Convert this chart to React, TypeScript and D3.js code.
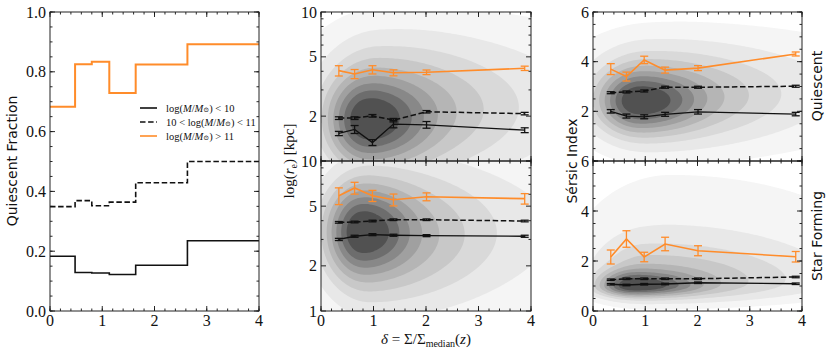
import React from 'react'
import * as d3 from 'd3'

// quiescent fraction, step histogram over delta bins
const binEdges = [0, 0.48, 0.8, 1.135, 1.64, 2.63, 4]
const fracLow = [0.183, 0.129, 0.127, 0.122, 0.153, 0.235]
const fracMid = [0.349, 0.369, 0.352, 0.364, 0.429, 0.5]
const fracHigh = [0.683, 0.825, 0.834, 0.729, 0.824, 0.892]

// delta bin centres for the size / sersic trends
const deltaPts = [0.34, 0.64, 0.98, 1.38, 2.01, 3.88]

// effective radius [kpc], quiescent
const reQLow = [1.53, 1.63, 1.33, 1.77, 1.75, 1.61]
const reQLowErr = [0.05, 0.1, 0.06, 0.1, 0.09, 0.06]
const reQMid = [1.94, 1.94, 2.01, 1.88, 2.14, 2.08]
const reQMidErr = [0.04, 0.04, 0.04, 0.05, 0.04, 0.04]
const reQHigh = [4.04, 3.84, 4.1, 3.91, 3.94, 4.19]
const reQHighErr = [0.32, 0.27, 0.26, 0.18, 0.14, 0.14]

// effective radius [kpc], star forming
const reSLow = [3.0, 3.15, 3.23, 3.2, 3.18, 3.15]
const reSLowErr = [0.05, 0.05, 0.05, 0.05, 0.05, 0.05]
const reSMid = [3.9, 3.92, 3.98, 4.06, 4.06, 3.98]
const reSMidErr = [0.05, 0.05, 0.05, 0.05, 0.05, 0.05]
const reSHigh = [5.87, 6.61, 5.87, 5.52, 5.78, 5.61]
const reSHighErr = [0.75, 0.6, 0.5, 0.5, 0.35, 0.45]

// sersic index, quiescent
const nQLow = [2.0, 1.81, 1.78, 1.88, 1.98, 1.89]
const nQLowErr = [0.07, 0.08, 0.08, 0.08, 0.09, 0.07]
const nQMid = [2.75, 2.78, 2.82, 2.97, 2.97, 3.01]
const nQMidErr = [0.04, 0.04, 0.04, 0.04, 0.04, 0.04]
const nQHigh = [3.7, 3.4, 4.07, 3.66, 3.74, 4.31]
const nQHighErr = [0.22, 0.18, 0.15, 0.12, 0.1, 0.08]

// sersic index, star forming
const nSLow = [1.07, 1.04, 1.07, 1.08, 1.13, 1.09]
const nSLowErr = [0.03, 0.03, 0.03, 0.03, 0.03, 0.03]
const nSMid = [1.25, 1.29, 1.29, 1.29, 1.29, 1.36]
const nSMidErr = [0.03, 0.03, 0.03, 0.03, 0.03, 0.03]
const nSHigh = [2.16, 2.88, 2.16, 2.68, 2.41, 2.17]
const nSHighErr = [0.28, 0.33, 0.19, 0.27, 0.2, 0.21]

// background density, as a few skewed gaussian blobs (x in delta, y in log r or n)
type Blob = { cx: number; cy: number; sxl: number; sxr: number; syd: number; syu: number; w: number }
const densQSize: Blob[] = [
  { cx: 0.85, cy: 0.27, sxl: 0.4, sxr: 0.65, syd: 0.16, syu: 0.16, w: 1 },
  { cx: 1.1, cy: 0.33, sxl: 0.55, sxr: 1.3, syd: 0.24, syu: 0.24, w: 0.4 },
  { cx: 2.2, cy: 0.4, sxl: 1.6, sxr: 2.5, syd: 0.32, syu: 0.32, w: 0.08 },
]
const densSSize: Blob[] = [
  { cx: 0.75, cy: 0.53, sxl: 0.35, sxr: 0.55, syd: 0.16, syu: 0.16, w: 1 },
  { cx: 0.95, cy: 0.5, sxl: 0.5, sxr: 1.2, syd: 0.25, syu: 0.25, w: 0.4 },
  { cx: 2.0, cy: 0.55, sxl: 1.5, sxr: 2.5, syd: 0.33, syu: 0.33, w: 0.07 },
]
const densQSersic: Blob[] = [
  { cx: 0.85, cy: 2.4, sxl: 0.4, sxr: 0.65, syd: 0.65, syu: 0.65, w: 1 },
  { cx: 1.05, cy: 2.6, sxl: 0.55, sxr: 1.3, syd: 1.0, syu: 1.0, w: 0.4 },
  { cx: 2.0, cy: 2.9, sxl: 1.6, sxr: 2.5, syd: 1.4, syu: 1.4, w: 0.07 },
]
const densSSersic: Blob[] = [
  { cx: 0.75, cy: 1.0, sxl: 0.35, sxr: 0.7, syd: 0.22, syu: 0.35, w: 1 },
  { cx: 1.0, cy: 1.1, sxl: 0.5, sxr: 1.6, syd: 0.4, syu: 0.9, w: 0.3 },
  { cx: 1.5, cy: 1.5, sxl: 1.2, sxr: 2.5, syd: 0.6, syu: 2.4, w: 0.05 },
]
const levelFracs = [0.01, 0.035, 0.08, 0.14, 0.22, 0.32, 0.44, 0.58, 0.74]
const greys = ['#f5f5f5', '#e8e8e8', '#d9d9d9', '#c8c8c8', '#b5b5b5', '#a0a0a0', '#888888', '#6d6d6d', '#515151']

const ORANGE = '#ff8c2a'
const SERIF = 'Liberation Serif, DejaVu Serif, serif'
const SANS = 'DejaVu Sans, sans-serif'

const xsLeft = d3.scaleLinear().domain([0, 4]).range([50, 259])
const ysLeft = d3.scaleLinear().domain([0, 1]).range([311, 12])
const xsMid = d3.scaleLinear().domain([0, 4]).range([321, 531])
const xsRight = d3.scaleLinear().domain([0, 4]).range([593, 802])
const ysMidTop = d3.scaleLog().domain([1, 10]).range([161, 12])
const ysMidBot = d3.scaleLog().domain([1, 10]).range([311, 161])
const ysRightTop = d3.scaleLinear().domain([0, 6]).range([161, 12])
const ysRightBot = d3.scaleLinear().domain([0, 6]).range([311, 161])

const xMajor = [0, 1, 2, 3, 4]
const xMinor = d3.range(0, 4.001, 0.2)
const fracMajor = d3.range(0, 1.001, 0.2)
const fracMinor = d3.range(0, 1.001, 0.05)
const logMajor = [1, 2, 5, 10]
const logMinor = [3, 4, 6, 7, 8, 9]
const nMajor = [0, 2, 4, 6]
const nMinor = d3.range(0, 6.001, 0.5)

function contourPaths(blobs: Blob[], xs: any, ys: any, yVar: (v: number) => number) {
  const [px0, px1] = xs.range()
  const [py1, py0] = ys.range()
  const step = 2
  const nx = Math.ceil((px1 - px0) / step)
  const ny = Math.ceil((py1 - py0) / step)
  const vals: number[] = new Array(nx * ny)
  for (let j = 0; j < ny; j++) {
    for (let i = 0; i < nx; i++) {
      const dx = xs.invert(px0 + (i + 0.5) * step)
      const dy = yVar(ys.invert(py0 + (j + 0.5) * step))
      let s = 0
      for (const c of blobs) {
        const u = (dx - c.cx) / (dx < c.cx ? c.sxl : c.sxr)
        const v = (dy - c.cy) / (dy < c.cy ? c.syd : c.syu)
        s += c.w * Math.exp(-0.5 * (u * u + v * v))
      }
      vals[j * nx + i] = s
    }
  }
  const mx = d3.max(vals) as number
  const cs = d3.contours().size([nx, ny]).thresholds(levelFracs.map(f => f * mx))(vals)
  const path = d3.geoPath(d3.geoIdentity().scale(step).translate([px0, py0]) as any)
  return cs.map((c, k) => ({ d: path(c as any) || '', fill: greys[k] }))
}

function Density({ id, blobs, xs, ys, log }: any) {
  const [x0, x1] = xs.range()
  const [y1, y0] = ys.range()
  const paths = contourPaths(blobs, xs, ys, log ? (v: number) => Math.log10(v) : (v: number) => v)
  return (
    <g>
      <clipPath id={id}><rect x={x0} y={y0} width={x1 - x0} height={y1 - y0} /></clipPath>
      <g clipPath={`url(#${id})`}>
        {paths.map((p, i) => <path key={i} d={p.d} fill={p.fill} stroke="none" />)}
      </g>
    </g>
  )
}

function Frame({ xs, ys, yMaj, yMin, yLabels, xLabels, yFmt }: any) {
  const [x0, x1] = xs.range()
  const [y1, y0] = ys.range()
  const ticks: any[] = []
  const add = (v: number, len: number, k: string) => {
    const x = xs(v)
    ticks.push(<line key={'b' + k + v} x1={x} x2={x} y1={y1} y2={y1 - len} />)
    ticks.push(<line key={'t' + k + v} x1={x} x2={x} y1={y0} y2={y0 + len} />)
  }
  const addY = (v: number, len: number, k: string) => {
    const y = ys(v)
    ticks.push(<line key={'l' + k + v} x1={x0} x2={x0 + len} y1={y} y2={y} />)
    ticks.push(<line key={'r' + k + v} x1={x1} x2={x1 - len} y1={y} y2={y} />)
  }
  xMinor.forEach(v => add(v, 2.5, 'm'))
  xMajor.forEach(v => add(v, 5, 'M'))
  yMin.forEach((v: number) => addY(v, 2.5, 'm'))
  yMaj.forEach((v: number) => addY(v, 5, 'M'))
  return (
    <g>
      <g stroke="#111" strokeWidth={0.9}>{ticks}</g>
      <rect x={x0} y={y0} width={x1 - x0} height={y1 - y0} fill="none" stroke="#222" strokeWidth={1} />
      <g fontFamily={SERIF} fontSize={16} fill="#111">
        {yLabels.map((v: number) => (
          <text key={'yl' + v} x={x0 - 4} y={ys(v)} textAnchor="end" dominantBaseline="central">{yFmt ? yFmt(v) : v}</text>
        ))}
        {xLabels && xMajor.map(v => (
          <text key={'xl' + v} x={xs(v)} y={y1 + 15} textAnchor="middle">{v}</text>
        ))}
      </g>
    </g>
  )
}

function Trend({ xs, ys, vals, errs, color, dash, width }: any) {
  const line = d3.line<number>().x((_, i) => xs(deltaPts[i])).y(d => ys(d))
  return (
    <g stroke={color} fill="none">
      <path d={line(vals) || ''} strokeWidth={width} strokeDasharray={dash} />
      {vals.map((v: number, i: number) => {
        const x = xs(deltaPts[i])
        const ya = ys(v - errs[i])
        const yb = ys(v + errs[i])
        return (
          <g key={i} strokeWidth={1.3}>
            <line x1={x} x2={x} y1={ya} y2={yb} />
            <line x1={x - 4} x2={x + 4} y1={ya} y2={ya} />
            <line x1={x - 4} x2={x + 4} y1={yb} y2={yb} />
          </g>
        )
      })}
    </g>
  )
}

function TrendSet({ xs, ys, low, lowErr, mid, midErr, high, highErr }: any) {
  return (
    <g>
      <Trend xs={xs} ys={ys} vals={low} errs={lowErr} color="#111" width={1.3} />
      <Trend xs={xs} ys={ys} vals={mid} errs={midErr} color="#111" width={1.5} dash="5.5,2.6" />
      <Trend xs={xs} ys={ys} vals={high} errs={highErr} color={ORANGE} width={1.6} />
    </g>
  )
}

function MassLabel({ x, y, pre, post }: any) {
  return (
    <text x={x} y={y} fontFamily={SERIF} fontSize={10.5} fill="#111" dominantBaseline="central">
      {pre}log(<tspan fontStyle="italic">M</tspan>/<tspan fontStyle="italic">M</tspan>
      <tspan dy={2} fontSize={7}>⊙</tspan><tspan dy={-2}>){post}</tspan>
    </text>
  )
}

export default function App() {
  const stepLine = d3.line<number>()
    .x((_, i) => xsLeft(binEdges[i]))
    .y(d => ysLeft(d))
    .curve(d3.curveStepAfter)
  const withEnd = (a: number[]) => [...a, a[a.length - 1]]
  const legendRows = [
    { y: 108, pre: '', post: ' < 10', color: '#111', dash: undefined, w: 1.6 },
    { y: 122, pre: '10 < ', post: ' < 11', color: '#111', dash: '5.5,2.6', w: 1.6 },
    { y: 136, pre: '', post: ' > 11', color: ORANGE, dash: undefined, w: 1.6 },
  ]
  return (
    <svg width={830} height={353} style={{ position: 'absolute', left: 0, top: 0, background: '#fff' }}>
      {/* left: quiescent fraction */}
      <g fill="none">
        <path d={stepLine(withEnd(fracLow)) || ''} stroke="#111" strokeWidth={1.6} />
        <path d={stepLine(withEnd(fracMid)) || ''} stroke="#111" strokeWidth={1.6} strokeDasharray="5.5,2.6" />
        <path d={stepLine(withEnd(fracHigh)) || ''} stroke={ORANGE} strokeWidth={2} />
      </g>
      {legendRows.map((r, i) => (
        <g key={i}>
          <line x1={140} x2={157} y1={r.y} y2={r.y} stroke={r.color} strokeWidth={r.w} strokeDasharray={r.dash} />
          <MassLabel x={166} y={r.y} pre={r.pre} post={r.post} />
        </g>
      ))}
      <Frame xs={xsLeft} ys={ysLeft} yMaj={fracMajor} yMin={fracMinor} yLabels={fracMajor} xLabels yFmt={(v: number) => v.toFixed(1)} />
      <text transform="translate(17,161) rotate(-90)" textAnchor="middle" fontFamily={SANS} fontSize={14} fill="#111">Quiescent Fraction</text>

      {/* middle: sizes */}
      <Density id="c1" blobs={densQSize} xs={xsMid} ys={ysMidTop} log />
      <Density id="c2" blobs={densSSize} xs={xsMid} ys={ysMidBot} log />
      <TrendSet xs={xsMid} ys={ysMidTop} low={reQLow} lowErr={reQLowErr} mid={reQMid} midErr={reQMidErr} high={reQHigh} highErr={reQHighErr} />
      <TrendSet xs={xsMid} ys={ysMidBot} low={reSLow} lowErr={reSLowErr} mid={reSMid} midErr={reSMidErr} high={reSHigh} highErr={reSHighErr} />
      <Frame xs={xsMid} ys={ysMidTop} yMaj={logMajor} yMin={logMinor} yLabels={[2, 5, 10]} />
      <Frame xs={xsMid} ys={ysMidBot} yMaj={logMajor} yMin={logMinor} yLabels={[1, 2, 5, 10]} xLabels />
      <text transform="translate(294,161) rotate(-90)" textAnchor="middle" fontFamily={SERIF} fontSize={15} fill="#111">
        log(<tspan fontStyle="italic">r</tspan><tspan dy={3} fontSize={10}>e</tspan><tspan dy={-3}>) [kpc]</tspan>
      </text>
      <text x={426} y={344} textAnchor="middle" fontFamily={SERIF} fontSize={15} fill="#111">
        <tspan fontStyle="italic">δ</tspan> = Σ/Σ<tspan dy={3} fontSize={10}>median</tspan><tspan dy={-3}>(</tspan><tspan fontStyle="italic">z</tspan>)
      </text>

      {/* right: sersic index */}
      <Density id="c3" blobs={densQSersic} xs={xsRight} ys={ysRightTop} />
      <Density id="c4" blobs={densSSersic} xs={xsRight} ys={ysRightBot} />
      <TrendSet xs={xsRight} ys={ysRightTop} low={nQLow} lowErr={nQLowErr} mid={nQMid} midErr={nQMidErr} high={nQHigh} highErr={nQHighErr} />
      <TrendSet xs={xsRight} ys={ysRightBot} low={nSLow} lowErr={nSLowErr} mid={nSMid} midErr={nSMidErr} high={nSHigh} highErr={nSHighErr} />
      <Frame xs={xsRight} ys={ysRightTop} yMaj={nMajor} yMin={nMinor} yLabels={[2, 4, 6]} />
      <Frame xs={xsRight} ys={ysRightBot} yMaj={nMajor} yMin={nMinor} yLabels={[0, 2, 4, 6]} xLabels />
      <text transform="translate(577,161) rotate(-90)" textAnchor="middle" fontFamily={SANS} fontSize={14} fill="#111">Sérsic Index</text>
      <text transform="translate(822,86) rotate(-90)" textAnchor="middle" fontFamily={SANS} fontSize={14} fill="#111">Quiescent</text>
      <text transform="translate(822,236) rotate(-90)" textAnchor="middle" fontFamily={SANS} fontSize={14} fill="#111">Star Forming</text>
    </svg>
  )
}
